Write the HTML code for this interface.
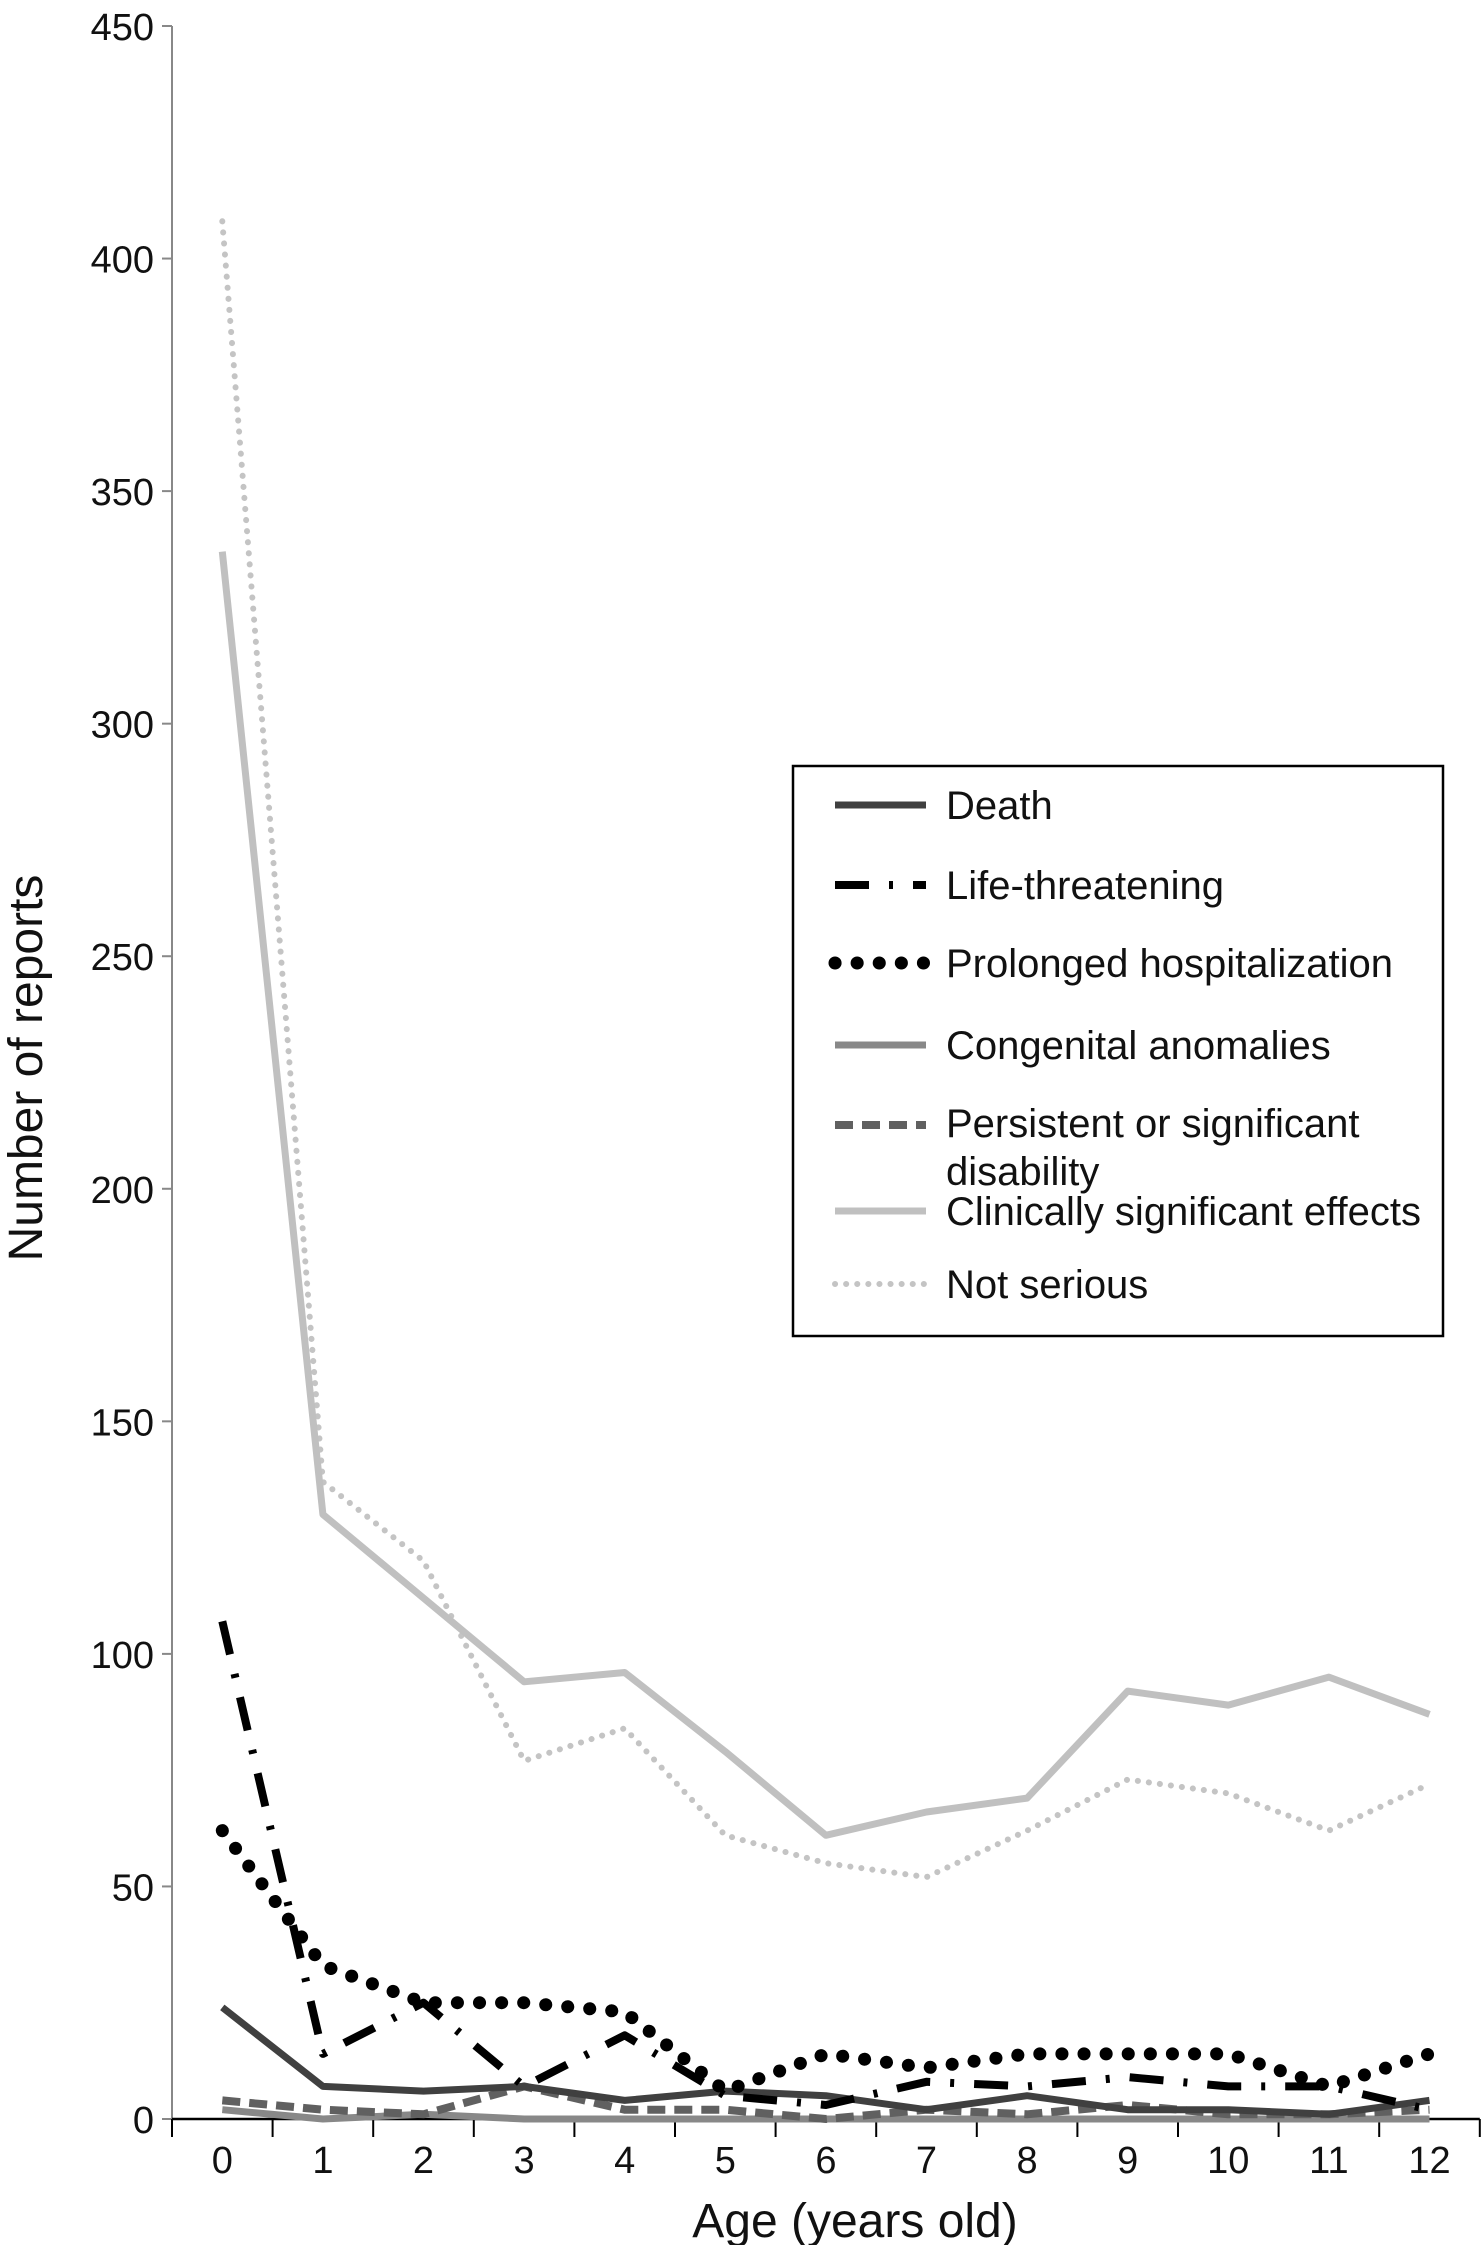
<!DOCTYPE html>
<html><head><meta charset="utf-8"><style>
html,body{margin:0;padding:0;background:#fff}
svg{display:block;font-family:"Liberation Sans",Arial,sans-serif}
</style></head><body>
<svg id="chart" width="1483" height="2245" viewBox="0 0 1483 2245">
<g id="axes"></g><g id="series"></g>
<g id="legend">
<rect x="793" y="766" width="650" height="570" fill="#fff" stroke="#000" stroke-width="2.5"/>
</g>
</svg>
<script>
const categories=[0,1,2,3,4,5,6,7,8,9,10,11,12];
const yTicks=[0,50,100,150,200,250,300,350,400,450];
const seriesNames=["Death","Life-threatening","Prolonged hospitalization","Congenital anomalies","Persistent or significant disability","Clinically significant effects","Not serious"];
const death=[24,7,6,7,4,6,5,2,5,2,2,1,4];
const lifeThreatening=[107,14,25,7,18,5,3,8,7,9,7,7,2];
const prolonged=[62,33,25,25,23,6,14,11,14,14,14,7,14];
const congenital=[2,0,1,0,0,0,0,0,0,0,0,0,0];
const persistent=[4,2,1,7,2,2,0,2,1,3,1,1,2];
const clinical=[337,130,112,94,96,79,61,66,69,92,89,95,87];
const notSerious=[408,137,120,77,84,61,55,52,62,73,70,62,72];

const NS="http://www.w3.org/2000/svg";
const X0=172,XW=100.6,Y0=2119,YTOP=26,YMAX=450;
function xs(i){return X0+XW*(i+0.5);}
function ys(v){return Y0-(v/YMAX)*(Y0-YTOP);}
function mk(tag,attrs,parent){const e=document.createElementNS(NS,tag);for(const k in attrs)e.setAttribute(k,attrs[k]);parent.appendChild(e);return e;}
const axes=document.getElementById('axes');
let yl=mk('line',{x1:X0,y1:YTOP,x2:X0,y2:Y0,stroke:'#888','stroke-width':2},axes);


let xl=mk('line',{x1:X0,y1:Y0,x2:X0+XW*13,y2:Y0,stroke:'#000','stroke-width':2.5},axes);


yTicks.forEach(t=>{
 mk('line',{x1:X0-10,y1:ys(t),x2:X0,y2:ys(t),stroke:'#888','stroke-width':2},axes);
 const tx=mk('text',{x:X0-18,y:ys(t)+14,'text-anchor':'end','font-size':38,fill:'#111'},axes);
 tx.textContent=t;
 
 
});
for(let k=0;k<=13;k++){mk('line',{x1:X0+XW*k,y1:Y0,x2:X0+XW*k,y2:Y0+18,stroke:'#000','stroke-width':2},axes);}
categories.forEach((c,i)=>{
 const tx=mk('text',{x:xs(i),y:2173,'text-anchor':'middle','font-size':38,fill:'#111'},axes);
 tx.textContent=c;
 
 
});
let xt=mk('text',{x:855,y:2237,'text-anchor':'middle','font-size':48,fill:'#111'},axes);
xt.textContent='Age (years old)';


let yt=mk('text',{x:0,y:0,'text-anchor':'middle','font-size':48,fill:'#111',transform:'translate(42,1068) rotate(-90)'},axes);
yt.textContent='Number of reports';



const styles=[
 {d:death,c:'#404040',w:7,da:null,cap:'butt'},
 {d:lifeThreatening,c:'#000',w:8,da:'34 20 4 20',cap:'butt'},
 {d:prolonged,c:'#000',w:13,da:'0.1 22',cap:'round'},
 {d:congenital,c:'#888',w:7,da:null,cap:'butt'},
 {d:persistent,c:'#606060',w:8,da:'18 9',cap:'butt'},
 {d:clinical,c:'#c0c0c0',w:7,da:null,cap:'butt'},
 {d:notSerious,c:'#c4c4c4',w:6,da:'0.1 11',cap:'round'}
];
const sg=document.getElementById('series');
const drawOrder=[6,5,3,4,0,1,2];
drawOrder.forEach(si=>{
 const s=styles[si];
 const pts=s.d.map((v,i)=>xs(i).toFixed(1)+','+ys(v).toFixed(1)).join(' ');
 const a={points:pts,fill:'none',stroke:s.c,'stroke-width':s.w,'stroke-linecap':s.cap,'stroke-linejoin':'round'};
 if(s.da)a['stroke-dasharray']=s.da;
 const p=mk('polyline',a,sg);
 
 
});
const lg=document.getElementById('legend');
const ly=[805,885,963,1045,1125,1211,1284];
styles.forEach((s,i)=>{
 const a={x1:835,y1:ly[i],x2:926,y2:ly[i],stroke:s.c,'stroke-width':s.w,'stroke-linecap':s.cap};
 if(s.da)a['stroke-dasharray']=s.da;
 const l=mk('line',a,lg);
 
 
 const t=mk('text',{x:946,y:ly[i]+14,'font-size':40,fill:'#111'},lg);
 
 
 if(i===4){t.setAttribute('y',ly[i]+12);t.textContent='Persistent or significant';
  const t2=mk('text',{x:946,y:ly[i]+60,'font-size':40,fill:'#111'},lg);t2.textContent='disability';
  
  }
 else t.textContent=seriesNames[i];
});
</script>
</body></html>
